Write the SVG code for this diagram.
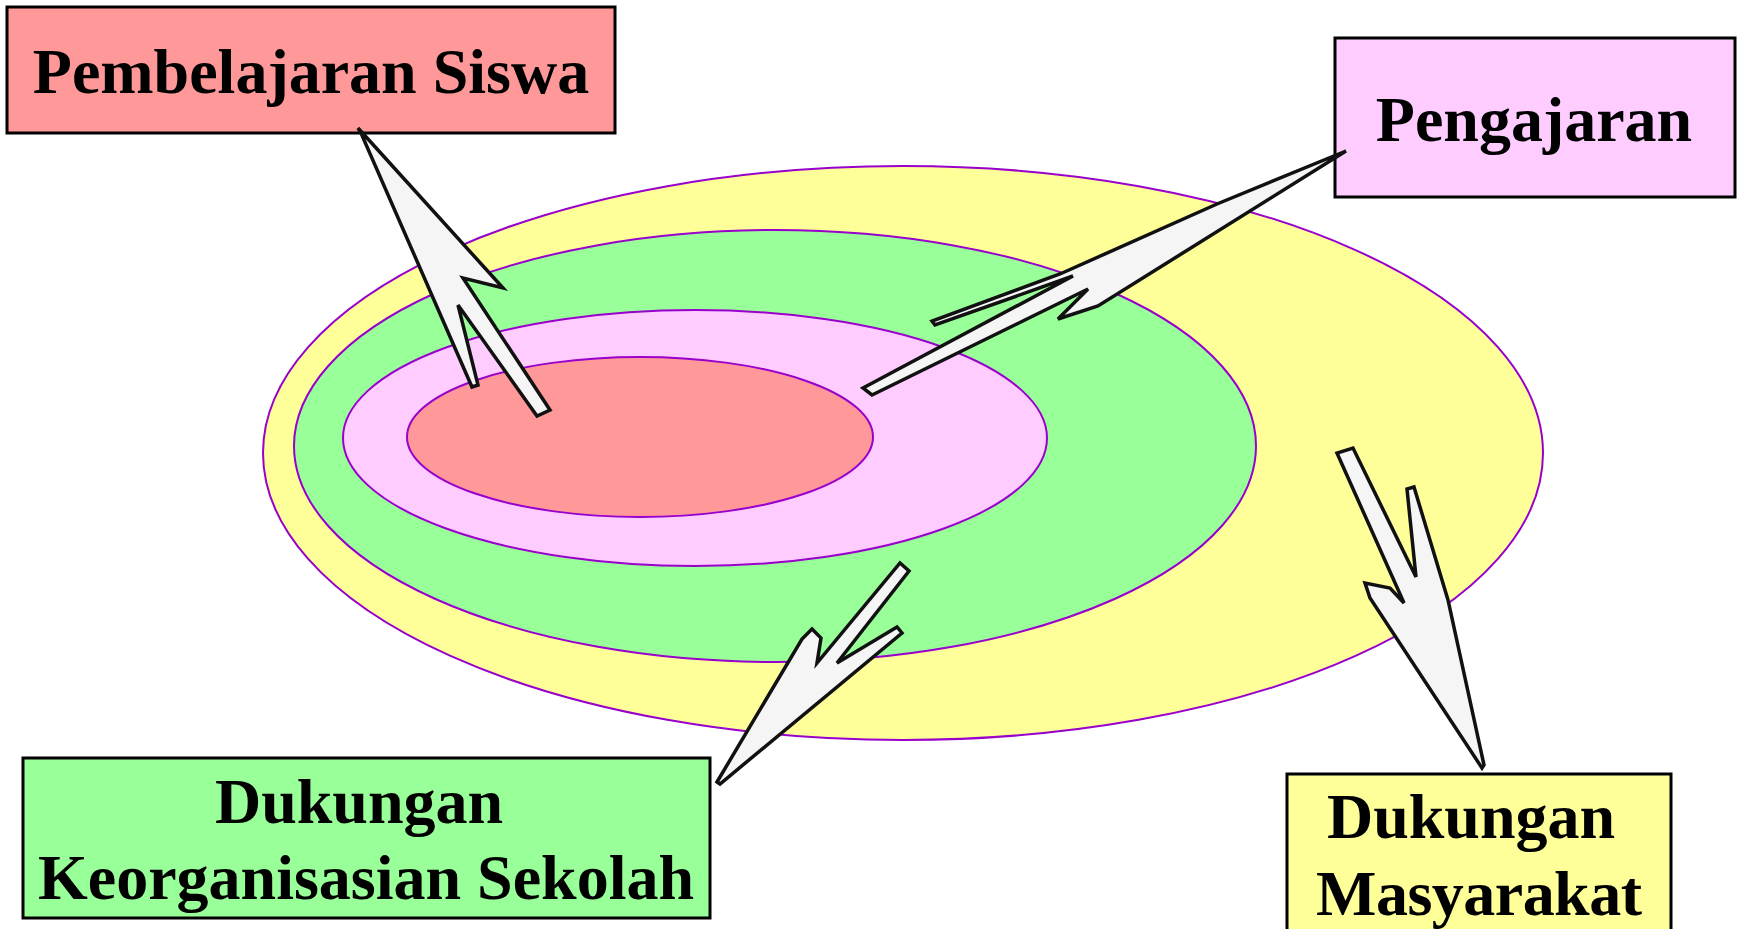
<svg xmlns="http://www.w3.org/2000/svg" width="1738" height="929" viewBox="0 0 1738 929">
<style>
.bg{fill:#ffffff}
.ell{stroke:#9900CC;stroke-width:2}
.box{stroke:#000000;stroke-width:3}
.lbl{font-family:"Liberation Serif","Times New Roman",serif;font-weight:bold;font-size:64px;fill:#000000;text-anchor:middle}
.arr{fill:#F5F5F5;stroke:#111111;stroke-width:3.5;stroke-linejoin:miter}
</style>
<rect class="bg" x="0" y="0" width="1738" height="929"/>
<g id="rings">
<ellipse id="ring-masyarakat" class="ell" cx="903" cy="453" rx="640" ry="287" fill="#FFFF99"/>
<ellipse id="ring-sekolah" class="ell" cx="775" cy="446" rx="481" ry="216" fill="#99FF99"/>
<ellipse id="ring-pengajaran" class="ell" cx="695" cy="438" rx="352" ry="128" fill="#FFCCFF"/>
<ellipse id="ring-siswa" class="ell" cx="640" cy="437" rx="233" ry="80" fill="#FF9999"/>
</g>
<g id="node-siswa">
<rect class="box" x="7" y="7" width="608" height="126" fill="#FF9999"/>
<text class="lbl" x="311" y="93">Pembelajaran Siswa</text>
</g>
<g id="node-pengajaran">
<rect class="box" x="1335" y="38" width="400" height="159" fill="#FFCCFF"/>
<text class="lbl" x="1534" y="141">Pengajaran</text>
</g>
<g id="node-sekolah">
<rect class="box" x="23" y="758" width="687" height="160" fill="#99FF99"/>
<text class="lbl" x="359" y="823">Dukungan</text>
<text class="lbl" x="366" y="899">Keorganisasian Sekolah</text>
</g>
<g id="node-masyarakat">
<rect class="box" x="1287" y="774" width="384" height="190" fill="#FFFF99"/>
<text class="lbl" x="1471" y="838">Dukungan</text>
<text class="lbl" x="1479" y="915" textLength="326" lengthAdjust="spacing">Masyarakat</text>
</g>
<g id="connectors">
<polygon class="arr" points="358,128 503,288 463,278 550,410 537,416 458,305 478,385 472,387 361,133"/>
<polygon class="arr" points="1346,151 1098,306 1058,319 1088,289 872,395 863,388 1073,276 935,325 932,321 1060,274 1217,204"/>
<polygon class="arr" points="717,782 802,639 812,629 821,638 817,663 900,563 909,571 837,663 897,627 902,633 720,784"/>
<polygon class="arr" points="1482,768 1370,598 1365,583 1390,588 1404,603 1337,453 1353,448 1416,577 1407,489 1414,487 1448,600 1484,765"/>
</g>
</svg>
